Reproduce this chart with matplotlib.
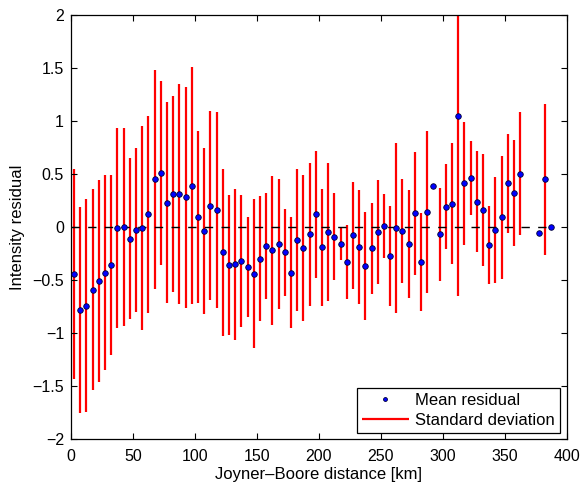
import numpy as np
import matplotlib
matplotlib.use('Agg')
import matplotlib.pyplot as plt
from matplotlib.ticker import FuncFormatter

# distance bins [km] (bin centres, 5 km apart)
distance = [2.5, 7.5, 12.5, 17.5, 22.5, 27.5, 32.5, 37.5, 42.5, 47.5,
            52.5, 57.5, 62.5, 67.5, 72.5, 77.5, 82.5, 87.5, 92.5, 97.5,
            102.5, 107.5, 112.5, 117.5, 122.5, 127.5, 132.5, 137.5, 142.5, 147.5,
            152.5, 157.5, 162.5, 167.5, 172.5, 177.5, 182.5, 187.5, 192.5, 197.5,
            202.5, 207.5, 212.5, 217.5, 222.5, 227.5, 232.5, 237.5, 242.5, 247.5,
            252.5, 257.5, 262.5, 267.5, 272.5, 277.5, 282.5, 287.5, 292.5, 297.5,
            302.5, 307.5, 312.5, 317.5, 322.5, 327.5, 332.5, 337.5, 342.5, 347.5,
            352.5, 357.5, 362.5, 377.5, 382.5, 387.5]

mean_residual = [-0.44, -0.78, -0.74, -0.59, -0.51, -0.43, -0.36, -0.01, 0.00, -0.11,
                 -0.03, -0.01, 0.12, 0.45, 0.51, 0.23, 0.31, 0.31, 0.28, 0.39,
                 0.09, -0.04, 0.20, 0.16, -0.24, -0.36, -0.35, -0.32, -0.38, -0.44,
                 -0.30, -0.18, -0.22, -0.16, -0.24, -0.43, -0.12, -0.20, -0.07, 0.12,
                 -0.19, -0.05, -0.09, -0.16, -0.33, -0.08, -0.19, -0.37, -0.20, -0.05,
                 0.01, -0.27, -0.01, -0.04, -0.16, 0.13, -0.33, 0.14, 0.39, -0.07,
                 0.19, 0.22, 1.05, 0.41, 0.46, 0.24, 0.16, -0.17, -0.03, 0.09,
                 0.41, 0.32, 0.50, -0.06, 0.45, 0.00]

std_residual = [0.99, 0.97, 1.00, 0.95, 0.95, 0.92, 0.85, 0.94, 0.93, 0.76,
                0.77, 0.96, 0.93, 1.03, 0.87, 0.95, 0.92, 1.04, 1.04, 1.12,
                0.81, 0.78, 0.89, 0.92, 0.79, 0.66, 0.71, 0.62, 0.47, 0.70,
                0.59, 0.50, 0.70, 0.61, 0.41, 0.52, 0.67, 0.69, 0.67, 0.60,
                0.55, 0.65, 0.41, 0.15, 0.35, 0.50, 0.54, 0.51, 0.43, 0.49,
                0.30, 0.47, 0.80, 0.49, 0.51, 0.58, 0.46, 0.76, np.nan, 0.44,
                0.40, 0.57, 1.70, 0.58, 0.35, 0.48, 0.53, 0.37, 0.50, 0.58,
                0.47, 0.50, 0.58, np.nan, 0.71, np.nan]

x = np.array(distance)
m = np.array(mean_residual)
s = np.array(std_residual)
has_std = ~np.isnan(s)

plt.rcParams['font.family'] = ['Liberation Sans', 'DejaVu Sans']
plt.rcParams['font.size'] = 11

fig = plt.figure(figsize=(5.82, 4.84), dpi=100)
ax = fig.add_axes([0.122, 0.0924, 0.8517, 0.8772])

sd = ax.vlines(x[has_std], m[has_std] - s[has_std], m[has_std] + s[has_std],
               colors='#ff0000', linewidth=1.6, zorder=1, label='Standard deviation')
ax.plot([0, x.max()], [0, 0], color='black', linewidth=1.0, dashes=(6, 6), zorder=2)
dots, = ax.plot(x, m, 'o', markersize=4, markerfacecolor='#0000ff',
                markeredgecolor='#000033', markeredgewidth=0.6, zorder=3,
                label='Mean residual')

ax.set_xlim(0, 400)
ax.set_ylim(-2, 2)
ax.set_xticks(np.arange(0, 401, 50))
ax.set_yticks(np.arange(-2, 2.01, 0.5))
fmt = FuncFormatter(lambda v, p: ('%g' % v).replace('-', '\u2212'))
ax.xaxis.set_major_formatter(fmt)
ax.yaxis.set_major_formatter(fmt)
ax.tick_params(axis='both', direction='in', top=True, right=True, length=4,
               width=0.8, labelsize=11.5)
ax.tick_params(axis='x', pad=7)
ax.tick_params(axis='y', pad=5)
for sp in ax.spines.values():
    sp.set_linewidth(0.9)

ax.set_xlabel('Joyner\u2013Boore distance [km]', fontsize=12, labelpad=2.5)
ax.set_ylabel('Intensity residual', fontsize=12, labelpad=5)

leg = ax.legend([dots, sd], ['Mean residual', 'Standard deviation'],
                loc='lower right', fontsize=12, fancybox=False, framealpha=1,
                edgecolor='black', borderaxespad=0.4, handlelength=2.8,
                borderpad=0.3, labelspacing=0.3, handletextpad=0.4, markerscale=0.7)
leg.get_frame().set_linewidth(0.9)

fig.savefig('out.png', dpi=100)
